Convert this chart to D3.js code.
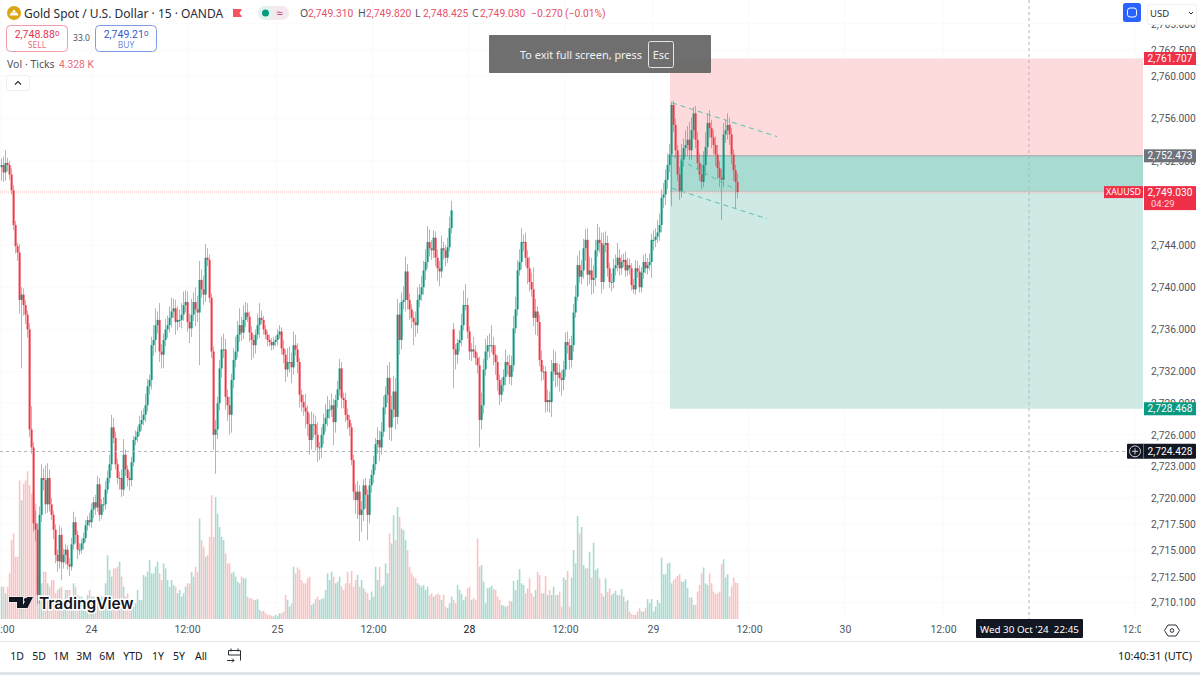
<!DOCTYPE html>
<html lang="en">

<head>
    <meta charset="UTF-8">
    <title>XAUUSD 15m</title>
    <style>
        html, body { margin: 0; background: #fff; overflow: hidden; }
        text { font-family: "Noto Sans", sans-serif; }
    </style>
</head>

<body>
    <div id="my_dataviz"></div>

    <script src="https://d3js.org/d3.v7.min.js"></script>
    <script>

        // all candle values are dollars above this base
        const priceBase = 2700;

        // one value per 15 minute bar
        const closes = [
            51.6,50.9,51.8,51.6,50.7,49.2,45.9,43.9,43.3,38.8,39.3,38.3,37.4,36,26.5,24.8,17.6,17,10.8,18.4,
            21.9,21.7,19.4,21.9,19.4,18.4,17,14.6,14,16.5,13.9,14.6,15.1,13.7,13.5,15.6,17.7,16.5,15.1,15.1,
            15.7,16.2,17.4,17.9,17.7,18.9,19.6,19.1,21.3,18.4,19.4,19.4,20.8,21.9,23.2,26.7,25.7,23.2,21.9,21.9,
            20.8,24.1,22.7,21.9,21.7,23.4,25.5,25.8,26.3,27,27.4,27.9,28.8,30.6,31.2,34.5,35,36.4,36.9,33.9,
            33.6,35,36,36.4,37.1,37.7,38,36.7,36.9,36.9,37.4,38.3,38.6,36.7,36.1,37.4,38.6,37.9,37.6,40.7,
            39.8,39.3,42.8,42.6,39,33.9,26,26.5,29,32.3,34.1,34.1,29.6,28.8,27.9,31.2,33.1,33.9,35.5,36.4,
            35.7,36.9,37.6,37.2,35.7,35,34.5,35.5,36.4,37.1,36.9,36,35.5,35,34.8,34.5,34.8,35,35.5,35.8,
            34.2,33.6,32.2,32.9,32.9,32.4,34.5,34.1,32.9,29.8,29.1,28.6,28.2,27,25.5,27,27,26,24.8,24.8,
            26,27,27.6,28.4,28.4,28.8,27.2,29.3,30.3,32.3,29.5,29.3,27.9,27.4,26.7,23.6,20.6,19.8,20.6,18.4,
            18.9,21.2,20.3,18.4,21.2,22.2,23.2,25.1,25.5,24.8,26.3,28.6,29.8,31.4,26.7,28.4,30.1,27.7,37.4,35,
            38.6,38.8,41.5,38.8,37.9,37.1,36.7,36.4,38.8,39.3,40,41.6,42.4,44.3,43.7,43.5,44.7,42.8,41.8,41.5,
            43.7,43.5,42.8,43.8,45.6,47.3,34.1,33.6,34.7,35,36.4,38.3,38.3,35.8,33.9,34.1,33.9,33.3,32.6,27.4,
            28.8,32.2,33.9,34.5,34.5,34.5,33.6,32.9,31.2,29.8,30.7,31.5,32.9,32.6,31.5,32.6,36.1,37.9,41.6,42.4,
            44.3,44.3,42.8,41.8,40.5,39.8,37.1,37.7,36.7,33.1,32,32,29.1,29.3,29.1,32,32.8,31.7,31.9,31.4,
            31.2,32.2,34.8,34.5,33.1,34.5,37.6,39.1,42.1,41,41.6,43.7,44.5,41.2,41.6,40.7,40.9,43.5,44.5,44.2,
            40.5,44,44.2,41.8,40.5,40.5,41.8,42.1,42.8,41.8,42.4,42.6,41.6,42.1,41.8,40.2,39.8,41.8,41.5,40,
            41.4,42.4,41.8,42.1,42.4,44.5,44.5,44.8,45.2,45.9,48.5,48.8,50.2,51.6,52.6,57.3,55.4,53,50.7,49.1,
            52.1,53.2,53.5,54,53,54.9,56.5,54,51.8,50.7,50,51.6,53.3,55.6,55.1,54.2,53.5,52.6,51.3,50.4,
            50.2,54.5,54.9,55.4,54.5,52.6,51.1,50,49.03
        ];
        // wick length above / below the body, dollars
        const upperWicks = [
            .6,.8,1.2,.5,.4,.6,.5,.4,.3,.8,.7,.6,.5,.4,.6,2.2,.5,1.2,.6,.8,
            1.3,.9,1.4,1.4,.8,.6,.4,.5,.5,.9,.7,.6,.5,.4,.6,.6,1,.5,.4,.6,
            .4,.5,.5,.4,.7,.6,.5,.7,.8,.6,.5,.7,.8,.7,.9,1.2,.9,.6,.5,.6,
            .8,1.5,.5,.4,.6,.5,.4,.6,.5,.8,.9,.6,1.1,.7,.5,.8,1.4,1.6,.8,1.6,
            .7,.6,1,.9,1.1,1.3,.9,.8,1.3,1,1.1,1.3,1.1,1,.8,1.5,.9,1.4,1.3,1.8,
            1,1.3,1.3,.9,.5,.4,.5,.9,.6,.8,1.2,1.5,1,.7,.8,.6,1.1,1.4,1.3,1.6,
            .8,1.4,1,.9,.5,.6,.5,.5,1.1,1.4,.7,.4,.4,.3,.5,.4,.5,.4,.5,.6,
            .4,.8,.5,1.3,1.5,.9,1.3,1,.6,.4,.5,.7,1.3,.6,1,1.2,1,.8,1.2,.5,
            .7,1,1.3,1.3,.9,1.1,.6,.5,.8,.9,.6,.5,.7,.6,.5,.4,.5,.7,1,.6,
            .8,.6,.7,.5,.6,.5,.8,.6,1.2,.9,.9,1.1,.8,1.2,1.5,1.3,1.5,1.3,1.5,1.1,
            .9,1.3,1.4,.7,.6,.5,.6,1,1.2,1,1.1,.9,1.2,1.5,1.2,.8,.7,.6,.8,.7,
            1.2,.6,.5,.9,1.1,.9,.6,.5,.4,.9,1.1,1.4,2,.7,.5,.6,1.2,.6,.5,.8,
            1.2,1,1.2,.9,1.1,1.9,.8,.9,.6,.5,.7,.7,1.2,.6,1,.9,1.2,1.2,1,1.2,
            1.3,.7,.9,.7,1.1,.9,2.1,1.2,.5,.7,.9,.6,.5,1,.8,1.1,1.3,1.1,.9,.8,
            .7,.8,.9,1,.6,.9,.8,1.1,.9,1.4,1,.9,1,1.1,1.3,1.2,1.2,1,1.5,1.2,
            1,1.2,1.1,.7,.5,.8,.9,1,1.4,.8,.7,.6,.8,.7,.6,.5,.6,.8,.7,.6,
            .5,.7,.8,.7,.8,.6,.9,.8,1.2,1.1,.8,1.1,1,1.1,1,.3,.4,.6,.5,.7,
            1.5,.9,1.4,1.3,1.7,1.2,.6,.7,.7,.9,1,1.3,1.4,.9,1.2,.8,.7,.8,.9,.7,
            .8,1.1,1,1.1,.7,.6,.5,.5,.8
        ];
        const lowerWicks = [
            1.3,.9,.8,.6,.5,.4,.5,.7,.8,1.3,6.5,1,.9,.8,.7,.6,.8,1.1,.9,.8,
            .7,1,.9,.8,.7,.5,.9,.8,1,.7,1.7,.6,.9,.5,.9,.4,.5,.8,.9,.5,
            .4,.6,.4,.5,.4,.5,.8,.7,.4,.6,.4,.7,.5,.4,.5,.6,.5,.5,.6,1.1,
            .7,.6,.6,.8,1,.6,.4,.5,.5,.4,.6,.5,.7,.6,.8,.9,1,1.2,.8,1,
            1.3,1.3,.6,.8,.7,.9,.6,1.2,.8,.7,.8,.6,.7,.9,1.4,.8,.6,1.6,.9,5,
            .8,1,.7,.6,.5,.6,1.4,3.7,.9,.7,.9,.8,1.2,1.5,1.9,1.7,.8,.7,.6,.7,
            .8,.6,.7,.5,.9,1.9,1.2,.8,.5,1.2,.4,.5,.4,.6,.4,.5,.4,.4,.5,.4,
            .6,.8,1.2,.7,1,1.5,.7,.6,1.1,1.2,.9,.8,1.6,1.1,1.4,.9,1.3,1.5,1.4,1.2,
            1,.9,.7,.8,.9,.7,2.2,1,.7,.6,1,.8,.7,.9,.8,.5,.8,1.3,1.8,2.5,
            1.6,1.1,1.3,2.4,.8,.7,.8,.6,.9,1.3,.7,.5,.7,.8,1.2,1.3,.8,1.2,.7,1.4,
            .9,.7,1.1,.9,1,1,2.2,1.1,.8,.7,.6,.7,.9,.6,.8,.9,.7,.8,1.2,1.4,
            .6,.9,.8,.5,.4,.5,3.7,1.4,.9,.8,.6,.5,.5,.7,.8,.9,.6,.7,.8,2.6,
            .9,.8,.6,.8,1.2,.7,1,1.2,1,1,.7,.6,.8,.9,.7,.8,.6,.5,.6,.5,
            .7,.9,.8,1.5,.9,.7,.8,1.6,1.3,.6,.9,.8,1,.9,1,1.4,.9,1.2,1.1,1.3,
            1.5,1,.7,.8,.9,.7,.6,.5,.4,.6,.7,.8,1.2,1.1,.9,1.4,1.3,.8,.6,.9,
            1.1,.7,.7,.8,.6,.9,.6,.7,.6,.7,.6,.5,.6,.5,.6,.5,.4,.5,.6,.5,
            .5,.6,.5,.6,.5,1.5,1,.7,.6,.8,.7,1,1,.9,.7,4.9,.7,.6,.6,.8,
            .6,.7,.8,1,.9,.9,.8,.8,.7,.6,.7,.5,1,.8,.9,1,.9,1.1,1,.9,
            3.8,.7,.8,.9,1,.9,1,2.5,.6
        ];
        // ticks volume per bar, thousands
        const volumes = [
            3.9,3.9,3.1,3.9,5.5,9.5,10.3,7.5,7.5,16.7,14.3,16.3,16.7,17.8,16.1,15.1,15.3,13.9,11.5,5.5,
            4.3,5.7,5.7,4.3,3.9,4.7,4.7,3.1,3.5,3.7,3.9,2.3,3.5,3.5,3.5,2.3,4.3,3.9,2.9,2.7,
            2.7,2.3,2.3,2.9,3.5,2.7,2.7,2.3,2.7,2.3,2.7,2.7,4.3,7.7,5.9,5.1,6.1,6.1,6.3,6.9,
            5.1,3.9,2.7,3.1,1.9,1.9,1.5,1.9,3.5,2.3,2.3,5.3,5.1,5.7,7.1,5.5,5.5,6.3,6.9,5.5,
            4.7,6.7,6.1,4.7,3.9,4.7,4.1,3.9,3.1,3.5,2.7,3.1,3.9,4.3,4.3,5.7,5.1,6.3,5.7,12.1,
            9.5,8.7,7.5,7.7,9.9,14.9,9.9,14.7,12.7,11.1,9.9,9.5,7.9,6.7,6.7,5.5,5.7,5.1,4.5,4.3,
            5.1,4.9,4.9,2.7,2.5,2.5,2.3,2.3,2.4,1.1,.9,1,.7,.5,.5,.4,.3,.5,.4,.7,
            .7,.9,2.9,2.3,1.5,1.9,6.3,5.5,6.2,5.9,4.7,4.3,4.3,4.9,5.1,1.7,1.9,2.4,2.7,2.3,
            2.4,2.5,3.5,5.5,4.7,5.7,5.1,4.3,4.5,5.1,3.9,3.5,4.3,5.7,4.3,5.8,3.9,4.7,5.3,3.9,
            4.7,3.7,3.3,3.1,2.3,3.3,2.7,6.3,4.7,6.3,3.9,4.1,6.7,5.5,10.3,9.1,12.5,9.5,13.5,12.3,
            10.9,10.7,9.5,8.3,6.3,5.5,5.1,4.9,4.3,4.1,3.9,4.1,3.5,3.9,2.9,3.1,2.7,2.9,3.1,2.9,
            2.3,2.9,1.5,1.3,1.9,2.7,2.3,1.9,4.1,3.5,3,2.3,2.7,3.7,3.9,2.3,2.5,2.3,9.7,6.3,
            6.5,4.5,1.9,3.7,3.8,4,3.6,3.5,2.7,2.3,1.7,1.6,1.5,1.6,2.2,2.1,4.6,3.5,4.7,6,
            4.3,4.1,3.1,3.7,4.9,3.1,2.7,3.5,5.7,5.3,3.1,3.1,5.2,2.9,3.5,2.9,3.9,2.9,2.9,3.3,
            1.5,5,4.7,5.8,1.5,5,8.3,6.7,12.4,10.3,11.1,6.5,6.1,6.1,8.1,5,9.2,5.9,6.1,4.9,
            3.1,2.7,4.9,3.3,3.7,2.9,3.1,3.4,2.9,2.9,3.6,2.7,2.1,2.3,.9,.6,.5,.5,.9,1.3,
            .9,.9,1.3,2.4,1.9,2.4,.9,1.5,2.3,1.9,7.4,5.4,5.4,6.7,6.8,4.3,4.7,4.9,5.2,5.4,
            4.5,4.5,4.8,3.7,2.6,2.6,1.7,1.7,3.3,4.1,5.5,6.2,4.3,4.1,5.5,4.3,3.3,3,3.1,3.3,
            6.6,7.2,5,5.4,2.7,3.9,5,4.4,4.328
        ];
        const weekendBar = 226;
        const weekendOpen = 2736.0;

        const priceTicks = [2765, 2762.5, 2760, 2756, 2752, 2744, 2740, 2736, 2732, 2729, 2726, 2723, 2720, 2717.5, 2715, 2712.5, 2710.1];
        const timeTickBars = [0, 45, 93, 138, 186, 234, 282, 326, 374, 422, 471, 567];
        const timeTickLabels = ["12:00", "24", "12:00", "25", "12:00", "28", "12:00", "29", "12:00", "30", "12:00", "12:00"];
        const rangeButtons = ["1D", "5D", "1M", "3M", "6M", "YTD", "1Y", "5Y", "All"];
        const rangeButtonX = [17, 39, 61, 84, 107, 133, 158, 179, 201];

        // long/short tool and hand drawn lines, [bar, price]
        const stopPrice = 2761.707, entryPrice = 2752.473, lastPrice = 2749.030, targetPrice = 2728.468, crossPrice = 2724.428;
        const positionStartBar = 334.5, crossBar = 514;
        const channelLines = [
            [[335.5, 2757.5], [388, 2754.3]],
            [[335.5, 2752.5], [368, 2749.2]],
            [[335.5, 2749.4], [383, 2746.5]]
        ];

        const green = "#089981", red = "#f23645", axisText = "#50535e";

        const width = 1200, height = 675;
        const svg = d3.select("#my_dataviz")
            .append("svg")
            .attr("width", width)
            .attr("height", height)
            .style("display", "block");

        const paneRight = 1143, paneBottom = 619;

        // scales
        const x = d3.scaleLinear().domain([0, 571]).range([1, paneRight]);
        const y = d3.scaleLinear().domain([2720, 2760]).range([498, 76.5]);
        const yVol = d3.scaleLinear().domain([0, 18]).range([paneBottom, paneBottom - 149.4]);

        svg.append("clipPath").attr("id", "pane")
            .append("rect").attr("width", paneRight).attr("height", paneBottom);
        svg.append("clipPath").attr("id", "timePane")
            .append("rect").attr("width", paneRight - 2).attr("height", height);

        const bars = closes.map((c, i) => {
            const close = priceBase + c;
            const open = i === weekendBar ? weekendOpen : (i ? priceBase + closes[i - 1] : priceBase + 51.4);
            return {
                i, open, close,
                high: Math.max(open, close) + upperWicks[i],
                low: Math.min(open, close) - lowerWicks[i],
                vol: volumes[i],
                up: close >= open
            };
        });

        // faint grid
        svg.append("g").selectAll("line").data(priceTicks).join("line")
            .attr("x1", 0).attr("x2", paneRight)
            .attr("y1", d => y(d)).attr("y2", d => y(d))
            .attr("stroke", "#fafafa");
        svg.append("g").selectAll("line").data(timeTickBars).join("line")
            .attr("x1", d => x(d)).attr("x2", d => x(d))
            .attr("y1", 0).attr("y2", paneBottom)
            .attr("stroke", "#fafafa");

        // position tool
        const posX = x(positionStartBar);
        svg.append("rect").attr("x", posX).attr("y", y(stopPrice))
            .attr("width", paneRight - posX).attr("height", y(entryPrice) - y(stopPrice))
            .attr("fill", "#fddbdd");
        svg.append("rect").attr("x", posX).attr("y", y(entryPrice))
            .attr("width", paneRight - posX).attr("height", y(lastPrice) - y(entryPrice))
            .attr("fill", "#a8dcd3");
        svg.append("rect").attr("x", posX).attr("y", y(lastPrice))
            .attr("width", paneRight - posX).attr("height", y(targetPrice) - y(lastPrice))
            .attr("fill", "#cfe9e4");
        svg.append("line").attr("x1", posX).attr("x2", paneRight)
            .attr("y1", y(entryPrice)).attr("y2", y(entryPrice))
            .attr("stroke", "#9aa0a6");

        // volume
        svg.append("g").attr("clip-path", "url(#pane)")
            .selectAll("rect").data(bars).join("rect")
            .attr("x", d => Math.round(x(d.i)) - 0.2)
            .attr("width", 1.6)
            .attr("y", d => yVol(d.vol))
            .attr("height", d => yVol(0) - yVol(d.vol))
            .attr("fill", d => d.up ? "#a5dbd1" : "#fcc1c4");

        // last price line
        svg.append("line").attr("x1", 0).attr("x2", paneRight)
            .attr("y1", y(lastPrice)).attr("y2", y(lastPrice))
            .attr("stroke", red).attr("stroke-opacity", 0.16).attr("stroke-width", 3)
            .attr("stroke-dasharray", "1 1");

        // candles
        const candles = svg.append("g").attr("clip-path", "url(#pane)").style("filter", "blur(0.2px)");
        candles.selectAll("line").data(bars).join("line")
            .attr("x1", d => Math.round(x(d.i)) + 0.5).attr("x2", d => Math.round(x(d.i)) + 0.5)
            .attr("y1", d => y(d.high)).attr("y2", d => y(d.low))
            .attr("stroke", d => d.up ? green : red)
            .attr("stroke-opacity", 0.5);
        candles.selectAll("rect").data(bars).join("rect")
            .attr("x", d => Math.round(x(d.i)) - 0.4)
            .attr("width", 2)
            .attr("y", d => y(Math.max(d.open, d.close)))
            .attr("height", d => Math.max(1, Math.abs(y(d.open) - y(d.close))))
            .attr("fill", d => d.up ? green : red);

        // channel lines
        svg.append("g").selectAll("line").data(channelLines).join("line")
            .attr("x1", d => x(d[0][0])).attr("y1", d => y(d[0][1]))
            .attr("x2", d => x(d[1][0])).attr("y2", d => y(d[1][1]))
            .attr("stroke", "#5cc0ae").attr("stroke-dasharray", "5 4");

        // crosshair
        svg.append("line").attr("x1", x(crossBar)).attr("x2", x(crossBar))
            .attr("y1", 0).attr("y2", paneBottom)
            .attr("stroke", "#b2b5be").attr("stroke-dasharray", "3 3");
        svg.append("line").attr("x1", 0).attr("x2", 1127)
            .attr("y1", Math.round(y(crossPrice)) + .5).attr("y2", Math.round(y(crossPrice)) + .5)
            .attr("stroke", "#b2b5be").attr("stroke-dasharray", "3 3");

        // price axis
        const priceAxis = svg.append("g")
            .attr("transform", `translate(${paneRight}, 0)`)
            .call(d3.axisRight(y).tickValues(priceTicks).tickSize(0).tickPadding(8).tickFormat(d3.format(",.3f")));
        priceAxis.select(".domain").remove();
        priceAxis.selectAll("text").attr("fill", axisText)
            .style("font-size", "10.2px").style("font-family", "Roboto, sans-serif");

        // time axis
        const timeAxis = svg.append("g")
            .attr("clip-path", "url(#timePane)")
            .attr("transform", `translate(0, ${paneBottom})`)
            .call(d3.axisBottom(x).tickValues(timeTickBars).tickSize(0).tickPadding(7)
                .tickFormat((d, i) => timeTickLabels[i]));
        timeAxis.select(".domain").remove();
        timeAxis.selectAll("text").attr("fill", (d, i) => timeTickLabels[i] === "28" ? "#131722" : axisText)
            .style("font-size", "10.5px").style("font-family", "Roboto, sans-serif");

        function tag(xPos, w, price, h, fill, label, sub) {
            const cy = y(price);
            const top = sub ? cy - 6 : cy - h / 2;
            svg.append("rect").attr("x", xPos).attr("y", top).attr("width", w).attr("height", h).attr("fill", fill);
            svg.append("text").attr("x", xPos + w / 2).attr("y", cy + 3.5).attr("text-anchor", "middle")
                .attr("fill", "#fff").style("font-size", "10.2px").style("font-family", "Roboto, sans-serif").text(label);
            if (sub) svg.append("text").attr("x", xPos + 7).attr("y", cy + 14.5)
                .attr("fill", "#ffd9dc").style("font-size", "9.5px").style("font-family", "Roboto, sans-serif").text(sub);
        }
        const fmt = d3.format(",.3f");
        tag(1144, 52, stopPrice, 13, "#ef2f48", fmt(stopPrice));
        tag(1144, 52, entryPrice, 13, "#6f737b", fmt(entryPrice));
        tag(1144, 52, targetPrice, 13, green, fmt(targetPrice));
        tag(1144, 52, lastPrice, 24, "#ef2f48", fmt(lastPrice), "04:29");
        svg.append("rect").attr("x", 1104).attr("y", y(lastPrice) - 6).attr("width", 39).attr("height", 12).attr("fill", "#ef2f48");
        svg.append("text").attr("x", 1123.5).attr("y", y(lastPrice) + 3).attr("text-anchor", "middle")
            .attr("fill", "#fff").style("font-size", "8.8px").text("XAUUSD");

        // crosshair labels
        svg.append("rect").attr("x", 1127).attr("y", y(crossPrice) - 7.5).attr("width", 69).attr("height", 15).attr("rx", 1).attr("fill", "#131722");
        svg.append("line").attr("x1", 1143.5).attr("x2", 1143.5).attr("y1", y(crossPrice) - 7.5).attr("y2", y(crossPrice) + 7.5).attr("stroke", "#6a6d78");
        svg.append("circle").attr("cx", 1135).attr("cy", y(crossPrice)).attr("r", 5.5).attr("fill", "none").attr("stroke", "#d1d4dc");
        svg.append("path").attr("d", `M1132 ${y(crossPrice)}h6M1135 ${y(crossPrice) - 3}v6`).attr("stroke", "#d1d4dc");
        svg.append("text").attr("x", 1170).attr("y", y(crossPrice) + 3.5).attr("text-anchor", "middle")
            .attr("fill", "#fff").style("font-size", "10.2px").style("font-family", "Roboto, sans-serif").text(fmt(crossPrice));
        svg.append("rect").attr("x", 976).attr("y", 619).attr("width", 107).attr("height", 19).attr("rx", 1).attr("fill", "#131722");
        svg.append("text").attr("x", 1029.5).attr("y", 632.5).attr("text-anchor", "middle")
            .attr("fill", "#fff").style("font-size", "9.8px").style("white-space", "pre").text("Wed 30 Oct '24  22:45");

        // top legend
        svg.append("circle").attr("cx", 14).attr("cy", 13).attr("r", 7).attr("fill", "#dba514");
        svg.append("path").attr("d", "M9.5 15.5h9l-1.5-3h-6zM12 12l2-2.5 2 2.5z").attr("fill", "#fff");
        svg.append("text").attr("x", 24).attr("y", 18).attr("fill", "#2a2e39").style("font-size", "12px")
            .text("Gold Spot / U.S. Dollar · 15 · OANDA");
        svg.append("path").attr("d", "M233 9h9l-2.5 4 2.5 4h-9z").attr("fill", "#f7525f");
        svg.append("rect").attr("x", 258).attr("y", 6).attr("width", 31).attr("height", 14).attr("rx", 7).attr("fill", "#f4e9ee");
        svg.append("rect").attr("x", 258).attr("y", 6).attr("width", 15).attr("height", 14).attr("rx", 7).attr("fill", "#e3f3f0");
        svg.append("circle").attr("cx", 265.5).attr("cy", 13).attr("r", 3.5).attr("fill", green);
        svg.append("text").attr("x", 279.5).attr("y", 16.5).attr("text-anchor", "middle").attr("fill", "#c2346b")
            .style("font-size", "11px").text("≈");

        const ohlcLabels = ["O", "H", "L", "C"];
        const ohlcValues = [2749.310, 2749.820, 2748.425, 2749.030];
        const ohlcX = [300, 358, 415, 472];
        ohlcLabels.forEach((l, i) => {
            svg.append("text").attr("x", ohlcX[i]).attr("y", 17).attr("fill", "#50535e").style("font-size", "10.5px").text(l);
            svg.append("text").attr("x", ohlcX[i] + 8).attr("y", 17).attr("fill", "#e8506a").style("font-size", "10.3px")
                .style("font-family", "Roboto, sans-serif").text(fmt(ohlcValues[i]));
        });
        svg.append("text").attr("x", 531).attr("y", 17).attr("fill", "#e8506a").style("font-size", "10.3px")
            .style("font-family", "Roboto, sans-serif").text("−0.270");
        svg.append("text").attr("x", 565).attr("y", 17).attr("fill", "#e8506a").style("font-size", "10.3px")
            .style("font-family", "Roboto, sans-serif").text("(−0.01%)");

        // sell / buy boxes
        function quote(bx, stroke, color, big, small, label) {
            svg.append("rect").attr("x", bx + .5).attr("y", 25.5).attr("width", 61).attr("height", 26).attr("rx", 4)
                .attr("fill", "#fff").attr("stroke", stroke);
            const t = svg.append("text").attr("x", bx + 31).attr("y", 37.5).attr("text-anchor", "middle").attr("fill", color)
                .style("font-size", "10.5px").style("font-family", "Roboto, sans-serif").text(big);
            t.append("tspan").style("font-size", "8px").attr("dy", -1.5).text(small);
            svg.append("text").attr("x", bx + 31).attr("y", 48).attr("text-anchor", "middle").attr("fill", color)
                .attr("fill-opacity", .75).style("font-size", "8.5px").text(label);
        }
        quote(6, "#f19aa8", "#e2344f", "2,748.88", "0", "SELL");
        quote(95, "#7f9be8", "#3558c8", "2,749.21", "0", "BUY");
        svg.append("text").attr("x", 81.5).attr("y", 41).attr("text-anchor", "middle").attr("fill", "#50535e")
            .style("font-size", "8.5px").text("33.0");

        svg.append("text").attr("x", 7).attr("y", 68).attr("fill", "#50535e").style("font-size", "10.5px").text("Vol · Ticks");
        svg.append("text").attr("x", 59).attr("y", 68).attr("fill", "#ea6a78").style("font-size", "10.3px")
            .style("font-family", "Roboto, sans-serif").text("4.328 K");
        svg.append("rect").attr("x", 6.5).attr("y", 75.5).attr("width", 23).attr("height", 15).attr("rx", 2)
            .attr("fill", "#fff").attr("stroke", "#eceef2");
        svg.append("path").attr("d", "M15 84.5l3-3 3 3").attr("fill", "none").attr("stroke", "#2a2e39").attr("stroke-width", 1.1);

        // full screen toast
        svg.append("rect").attr("x", 489).attr("y", 35).attr("width", 222).attr("height", 38).attr("rx", 1)
            .attr("fill", "#5f5f5f").attr("fill-opacity", .9);
        svg.append("text").attr("x", 520).attr("y", 59).attr("fill", "#f2f2f2").style("font-size", "10.9px").text("To exit full screen, press");
        svg.append("rect").attr("x", 648.5).attr("y", 41.5).attr("width", 25).attr("height", 26).attr("rx", 2)
            .attr("fill", "none").attr("stroke", "#e6e6e6");
        svg.append("text").attr("x", 661).attr("y", 59).attr("text-anchor", "middle").attr("fill", "#f2f2f2")
            .style("font-size", "10.9px").text("Esc");

        // top right buttons
        svg.append("rect").attr("x", 1123).attr("y", 3).attr("width", 18).attr("height", 19).attr("rx", 2.5).attr("fill", "#2962ff");
        svg.append("rect").attr("x", 1127.5).attr("y", 8).attr("width", 9).attr("height", 9).attr("rx", 2.5)
            .attr("fill", "none").attr("stroke", "#fff");
        svg.append("rect").attr("x", 1147.5).attr("y", 4.5).attr("width", 49).attr("height", 20).attr("rx", 2)
            .attr("fill", "#fff").attr("stroke", "#eef0f3");
        svg.append("text").attr("x", 1150).attr("y", 17).attr("fill", "#2a2e39").style("font-size", "9.5px").text("USD");
        svg.append("path").attr("d", "M1189 12l2 2 2-2").attr("fill", "none").attr("stroke", "#2a2e39");

        // TradingView watermark
        const wm = svg.append("g");
        wm.append("path").attr("d", "M9 597h14v11h-6v-6h-8zM27 597h6l-5.5 11h-6zM25.7 598a1.9 1.9 0 1 1-.01 0z").attr("fill", "#131722")
            .attr("stroke", "#fff").attr("stroke-width", 1).attr("paint-order", "stroke");
        wm.append("text").attr("x", 39).attr("y", 608.5).attr("fill", "#131722")
            .attr("stroke", "#fff").attr("stroke-width", 3).attr("paint-order", "stroke")
            .style("font-size", "15.5px").style("font-weight", 600).style("font-family", "Inter, sans-serif").text("TradingView");

        // gear
        svg.append("path").attr("d", "M1168 625h8l3.5 5.5-3.5 5.5h-8l-3.5-5.5z").attr("fill", "none").attr("stroke", "#2a2e39");
        svg.append("circle").attr("cx", 1172).attr("cy", 630.5).attr("r", 1.8).attr("fill", "none").attr("stroke", "#2a2e39");

        // bottom toolbar
        svg.append("line").attr("x1", 0).attr("x2", width).attr("y1", 641.5).attr("y2", 641.5).attr("stroke", "#e0e3eb");
        svg.append("g").selectAll("text").data(rangeButtons).join("text")
            .attr("x", (d, i) => rangeButtonX[i]).attr("y", 660).attr("text-anchor", "middle")
            .attr("fill", "#131722").style("font-size", "10.5px").text(d => d);
        svg.append("path").attr("d", "M228.5 650.5h12v10M228.5 650.5v4.5h12M231 648.5v3M238 648.5v3M227 660.5h7m-2-2l2 2-2 2")
            .attr("fill", "none").attr("stroke", "#2a2e39");
        svg.append("text").attr("x", 1192).attr("y", 660).attr("text-anchor", "end").attr("fill", "#131722")
            .style("font-size", "11px").text("10:40:31 (UTC)");
        svg.append("rect").attr("x", 0).attr("y", 672).attr("width", width).attr("height", 3).attr("fill", "#e0e3eb");

    </script>

</body>

</html>
